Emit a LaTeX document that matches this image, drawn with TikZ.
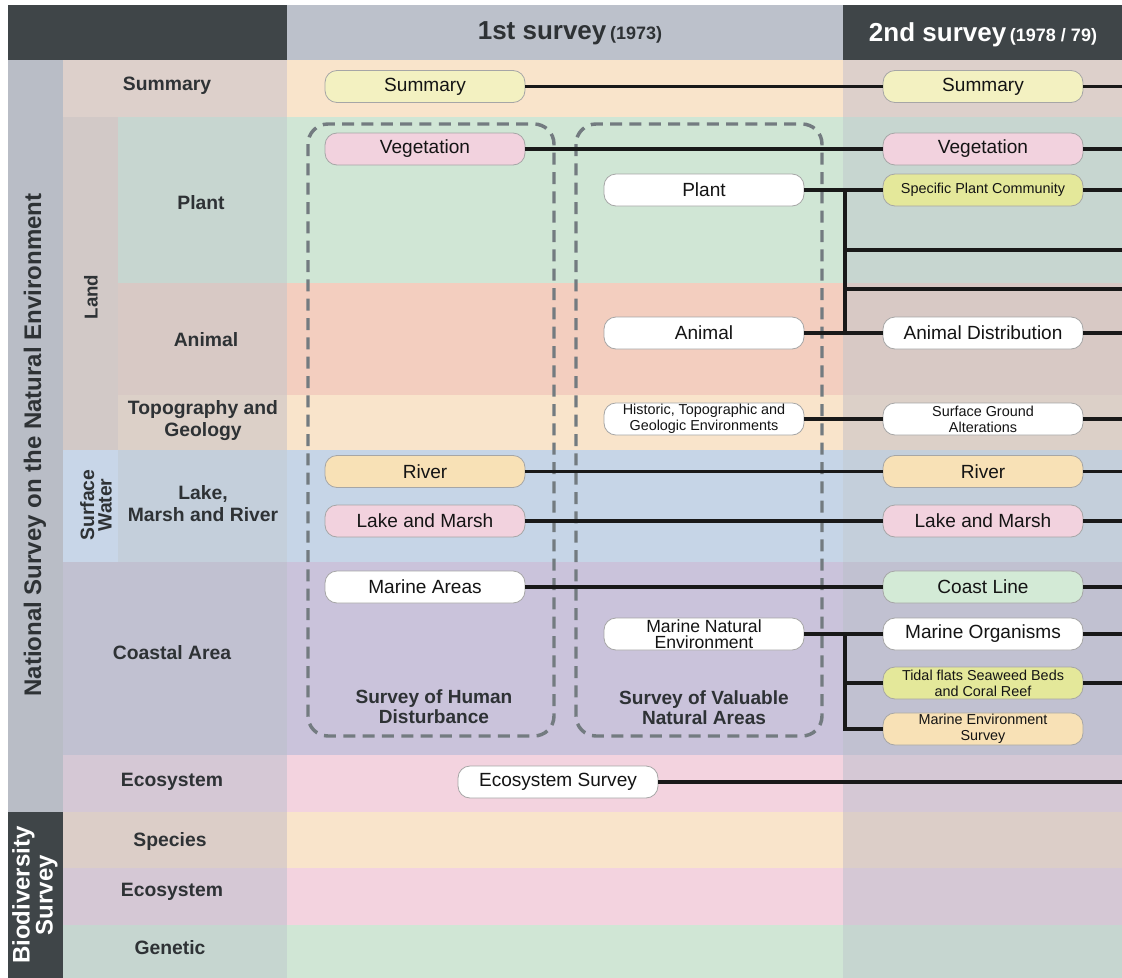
\documentclass[tikz,border=0pt]{standalone}
\usepackage{fontspec}
\setmainfont{Liberation Sans}
\begin{document}
\begin{tikzpicture}[x=0.75pt,y=-0.75pt]
\definecolor{hdrdark}{HTML}{3F4548}
\definecolor{hdrlight}{HTML}{BCC1CB}
\definecolor{natcol}{HTML}{B9BDC6}
\definecolor{lSum}{HTML}{DDD0CB}
\definecolor{lLand}{HTML}{D2C9C7}
\definecolor{lPlant}{HTML}{C7D6D0}
\definecolor{lAnimal}{HTML}{D8C9C5}
\definecolor{lTopo}{HTML}{DCD0C8}
\definecolor{lSurf}{HTML}{C8D6E8}
\definecolor{lLake}{HTML}{C4CFDB}
\definecolor{lCoast}{HTML}{C1C1D1}
\definecolor{lEco}{HTML}{D5C8D5}
\definecolor{lSpec}{HTML}{DCCEC8}
\definecolor{lGen}{HTML}{C6D6D0}
\definecolor{cSum}{HTML}{F9E4CB}
\definecolor{cPlant}{HTML}{D0E6D5}
\definecolor{cAnimal}{HTML}{F3CEBF}
\definecolor{cLake}{HTML}{C6D5E7}
\definecolor{cCoast}{HTML}{CAC3DB}
\definecolor{cEco}{HTML}{F3D3DF}
\definecolor{nYellow}{HTML}{F3F1C1}
\definecolor{nPink}{HTML}{F2D2DE}
\definecolor{nOrange}{HTML}{F8E1B6}
\definecolor{nGreen}{HTML}{D3EAD6}
\definecolor{nYG}{HTML}{E4E89A}
\definecolor{dashgrey}{HTML}{737B80}
\definecolor{labeltext}{HTML}{2E3235}
\tikzset{
  pill/.style={draw=black!35, line width=0.6pt, rounded corners=9pt, minimum width=150pt,
    minimum height=24pt, inner sep=1pt, align=center, fill=white,
    font=\fontsize{14.3}{14}\selectfont, text=black!92},
  smalltxt/.style={font=\fontsize{10.8}{12}\selectfont},
  midtxt/.style={font=\fontsize{13.2}{12}\selectfont},
  link/.style={line width=2.5pt, black!90},
  rowlbl/.style={font=\bfseries\fontsize{14.5}{16.5}\selectfont, text=labeltext, align=center},
  grp/.style={draw=dashgrey, line width=2.6pt, dash pattern=on 9pt off 5.5pt, rounded corners=15pt},
  grplbl/.style={font=\bfseries\fontsize{14.3}{15}\selectfont, text=labeltext, align=center}
}
% canvas
\fill[white] (0,0) rectangle (1122,978);
\useasboundingbox (0,0) rectangle (1122,978);
% header
\fill[hdrdark] (8,5) rectangle (287,60);
\fill[hdrlight] (287,5) rectangle (843,60);
\fill[hdrdark] (843,5) rectangle (1122,60);
% left columns
\fill[natcol] (8,60) rectangle (63,812);
\fill[hdrdark] (8,812) rectangle (63,978);
\fill[lLand] (63,117) rectangle (118,450);
\fill[lSurf] (63,450) rectangle (118,562);
% label column
\fill[lSum] (63,60) rectangle (287,117);
\fill[lPlant] (118,117) rectangle (287,283);
\fill[lAnimal] (118,283) rectangle (287,395);
\fill[lTopo] (118,395) rectangle (287,450);
\fill[lLake] (118,450) rectangle (287,562);
\fill[lCoast] (63,562) rectangle (287,755);
\fill[lEco] (63,755) rectangle (287,812);
\fill[lSpec] (63,812) rectangle (287,868);
\fill[lEco] (63,868) rectangle (287,925);
\fill[lGen] (63,925) rectangle (287,978);
% 1st survey column
\fill[cSum] (287,60) rectangle (843,117);
\fill[cPlant] (287,117) rectangle (843,283);
\fill[cAnimal] (287,283) rectangle (843,395);
\fill[cSum] (287,395) rectangle (843,450);
\fill[cLake] (287,450) rectangle (843,562);
\fill[cCoast] (287,562) rectangle (843,755);
\fill[cEco] (287,755) rectangle (843,812);
\fill[cSum] (287,812) rectangle (843,868);
\fill[cEco] (287,868) rectangle (843,925);
\fill[cPlant] (287,925) rectangle (843,978);
% 2nd survey column
\fill[lSum] (843,60) rectangle (1122,117);
\fill[lPlant] (843,117) rectangle (1122,283);
\fill[lAnimal] (843,283) rectangle (1122,395);
\fill[lTopo] (843,395) rectangle (1122,450);
\fill[lLake] (843,450) rectangle (1122,562);
\fill[lCoast] (843,562) rectangle (1122,755);
\fill[lEco] (843,755) rectangle (1122,812);
\fill[lSpec] (843,812) rectangle (1122,868);
\fill[lEco] (843,868) rectangle (1122,925);
\fill[lGen] (843,925) rectangle (1122,978);
% header texts
\node[text=labeltext, font=\bfseries] (h1) at (570,33)
  {{\fontsize{19.5}{20}\selectfont 1st survey} {\fontsize{13.5}{14}\selectfont (1973)}};
\node[text=white, font=\bfseries] (h2) at (983,35)
  {{\fontsize{19.5}{20}\selectfont 2nd survey} {\fontsize{13.5}{14}\selectfont (1978 / 79)}};
% vertical side labels
\node[rotate=90, font=\bfseries\fontsize{18}{19}\selectfont, text=labeltext] (nat) at (35,445)
  {National Survey on the Natural Environment};
\node[rotate=90, font=\bfseries\fontsize{18}{15.5}\selectfont, text=white, align=center] (bio) at (35,895)
  {Biodiversity\\Survey};
\node[rotate=90, font=\bfseries\fontsize{14}{15}\selectfont, text=labeltext] (land) at (91,297) {Land};
\node[rotate=90, font=\bfseries\fontsize{14.5}{13}\selectfont, text=labeltext, align=center] (surf) at (96,505)
  {Surface\\Water};
% row labels
\node[rowlbl] (rSum) at (167,86) {Summary};
\node[rowlbl] (rPlant) at (201,203) {Plant};
\node[rowlbl] (rAnimal) at (206,340) {Animal};
\node[rowlbl] (rTopo) at (203,421) {Topography and\\Geology};
\node[rowlbl] (rLake) at (203,504) {Lake,\\Marsh and River};
\node[rowlbl] (rCoast) at (172,653) {Coastal Area};
\node[rowlbl] (rEco) at (172,782) {Ecosystem};
\node[rowlbl] (rSpec) at (170,841) {Species};
\node[rowlbl] (rEco2) at (172,892) {Ecosystem};
\node[rowlbl] (rGen) at (170,948) {Genetic};
% dashed groups
\draw[grp] (308,124) rectangle (554,736);
\draw[grp] (576,124) rectangle (822,736);
\node[grplbl] (gH) at (434,707) {Survey of Human\\Disturbance};
\node[grplbl] (gV) at (704,708) {Survey of Valuable\\Natural Areas};
% edge coordinates
\coordinate (redge) at (1122,0);
\coordinate (bx) at (845,0);
\coordinate (pb1) at (845,250);
\coordinate (pb2) at (845,289);
% 1st survey nodes
\node[pill, fill=nYellow] (s1) at (425,86.5) {Summary};
\node[pill, fill=nPink] (v1) at (425,149) {Vegetation};
\node[pill, fill=nOrange] (r1) at (425,471.5) {River};
\node[pill, fill=nPink] (lm1) at (425,521) {Lake and Marsh};
\node[pill] (ma1) at (425,587) {Marine Areas};
\node[pill] (p1) at (704,190) {Plant};
\node[pill] (a1) at (704,333) {Animal};
\node[pill, smalltxt] (t1) at (704,419) {Historic, Topographic and\\Geologic Environments};
\node[pill, midtxt] (mn1) at (704,634) {Marine Natural\\Environment};
\node[pill] (es1) at (558,782) {Ecosystem Survey};
% 2nd survey nodes
\node[pill, fill=nYellow] (s2) at (983,86.5) {Summary};
\node[pill, fill=nPink] (v2) at (983,149) {Vegetation};
\node[pill, fill=nYG, smalltxt] (spc) at (983,190) {Specific Plant Community};
\node[pill] (ad) at (983,333) {Animal Distribution};
\node[pill, smalltxt] (sga) at (983,419) {Surface Ground\\Alterations};
\node[pill, fill=nOrange] (r2) at (983,471.5) {River};
\node[pill, fill=nPink] (lm2) at (983,521) {Lake and Marsh};
\node[pill, fill=nGreen] (cl) at (983,587) {Coast Line};
\node[pill] (mo) at (983,634) {Marine Organisms};
\node[pill, fill=nYG, smalltxt] (tf) at (983,683) {Tidal flats Seaweed Beds\\and Coral Reef};
\node[pill, fill=nOrange, smalltxt] (mes) at (983,729) {Marine Environment\\Survey};
% links 1st -> 2nd
\draw[link] (s1.east) -- (s2.west);
\draw[link] (v1.east) -- (v2.west);
\draw[link] (r1.east) -- (r2.west);
\draw[link] (lm1.east) -- (lm2.west);
\draw[link] (ma1.east) -- (cl.west);
\draw[link] (p1.east) -- (spc.west);
\draw[link] (a1.east) -- (ad.west);
\draw[link] (t1.east) -- (sga.west);
\draw[link] (mn1.east) -- (mo.west);
\draw[link] (bx |- p1.east) -- (bx |- a1.east);
\draw[link] (pb1) -- (pb1 -| redge);
\draw[link] (pb2) -- (pb2 -| redge);
\draw[link] (bx |- mn1.east) |- (mes.west);
\draw[link] (bx |- tf.west) -- (tf.west);
% links 2nd -> edge
\draw[link] (s2.east) -- (s2.east -| redge);
\draw[link] (v2.east) -- (v2.east -| redge);
\draw[link] (spc.east) -- (spc.east -| redge);
\draw[link] (ad.east) -- (ad.east -| redge);
\draw[link] (sga.east) -- (sga.east -| redge);
\draw[link] (r2.east) -- (r2.east -| redge);
\draw[link] (lm2.east) -- (lm2.east -| redge);
\draw[link] (cl.east) -- (cl.east -| redge);
\draw[link] (mo.east) -- (mo.east -| redge);
\draw[link] (tf.east) -- (tf.east -| redge);
\draw[link] (es1.east) -- (es1.east -| redge);
\end{tikzpicture}
\end{document}
